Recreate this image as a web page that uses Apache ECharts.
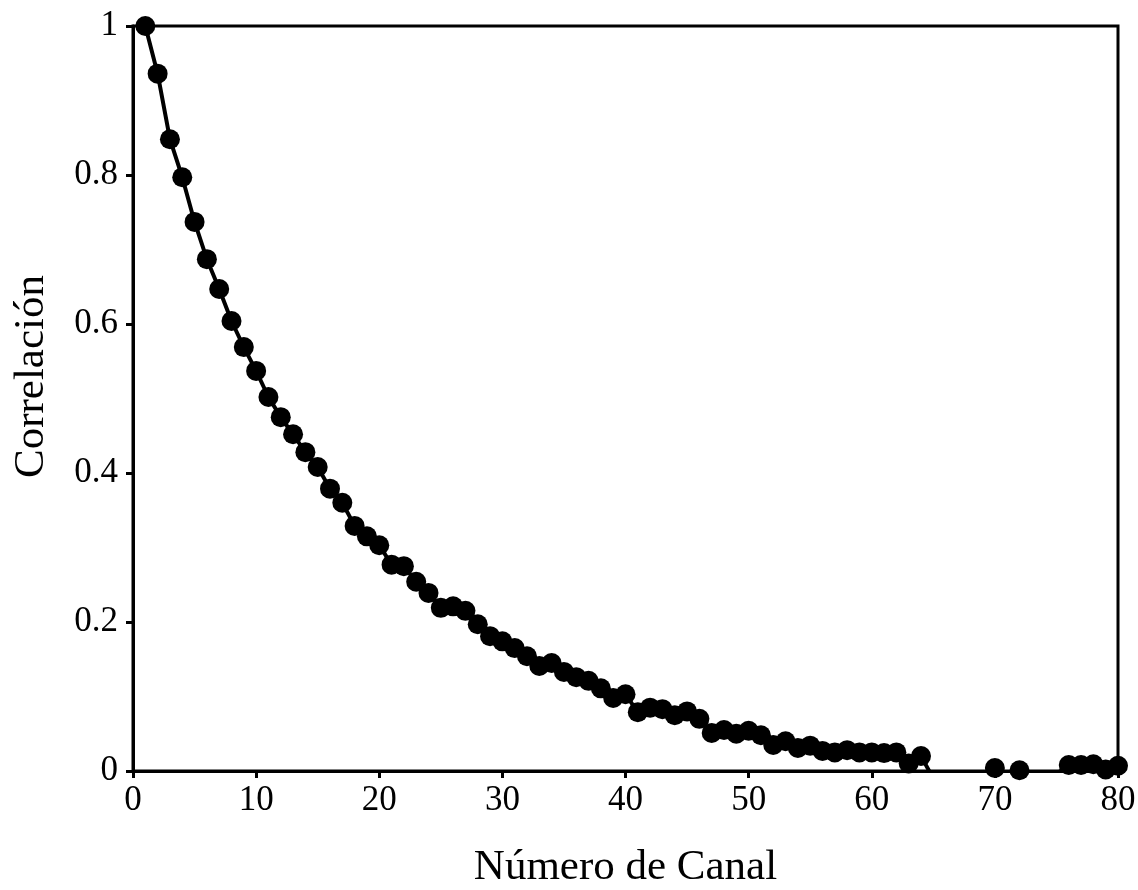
<!DOCTYPE html>
<html>
<head>
<meta charset="utf-8">
<script src="https://cdn.jsdelivr.net/npm/echarts@6/dist/echarts.min.js"></script>
<style>
  html, body { margin: 0; padding: 0; background: #fff; }
  #chart { width: 1138px; height: 890px; }
</style>
</head>
<body>
<div id="chart"></div>
<script>
// Channel numbers and their correlation values.
// Channels with a value below zero fall outside the axis range and are clipped.
const canales = [
  1, 2, 3, 4, 5, 6, 7, 8, 9, 10,
  11, 12, 13, 14, 15, 16, 17, 18, 19, 20,
  21, 22, 23, 24, 25, 26, 27, 28, 29, 30,
  31, 32, 33, 34, 35, 36, 37, 38, 39, 40,
  41, 42, 43, 44, 45, 46, 47, 48, 49, 50,
  51, 52, 53, 54, 55, 56, 57, 58, 59, 60,
  61, 62, 63, 64, 65, 66, 67, 68, 69, 70,
  71, 72, 73, 74, 75, 76, 77, 78, 79, 80
];
const correlacion = [
  1.000, 0.936, 0.848, 0.797, 0.737, 0.687, 0.647, 0.604, 0.569, 0.537,
  0.502, 0.475, 0.452, 0.428, 0.408, 0.379, 0.360, 0.329, 0.315, 0.303,
  0.277, 0.275, 0.254, 0.239, 0.219, 0.221, 0.215, 0.197, 0.181, 0.174,
  0.165, 0.154, 0.141, 0.145, 0.133, 0.126, 0.121, 0.111, 0.098, 0.103,
  0.079, 0.085, 0.083, 0.075, 0.080, 0.070, 0.051, 0.055, 0.050, 0.054,
  0.048, 0.035, 0.040, 0.031, 0.034, 0.027, 0.025, 0.028, 0.025, 0.025,
  0.024, 0.025, 0.010, 0.020, -0.010, -0.012, -0.008, -0.011, -0.006, 0.004,
  -0.006, 0.001, -0.008, -0.010, -0.004, 0.008, 0.008, 0.009, 0.002, 0.007
];
const xTicks = [0, 10, 20, 30, 40, 50, 60, 70, 80];
const yTicks = [0, 0.2, 0.4, 0.6, 0.8, 1];

const FONT = '"Liberation Serif", "DejaVu Serif", serif';
const chart = echarts.init(document.getElementById('chart'), null, { renderer: 'canvas' });

chart.setOption({
  animation: false,
  backgroundColor: '#ffffff',
  grid: {
    left: 133, right: 20, top: 26, bottom: 119,
    outerBoundsMode: 'none', containLabel: false,
    show: true, borderColor: '#000', borderWidth: 3, backgroundColor: 'transparent'
  },
  xAxis: {
    type: 'value',
    min: xTicks[0], max: xTicks[xTicks.length - 1], interval: xTicks[1] - xTicks[0],
    name: 'Número de Canal',
    nameLocation: 'middle', nameGap: 75,
    nameTextStyle: { fontFamily: FONT, fontSize: 43, color: '#000' },
    axisLine: { show: true, lineStyle: { color: '#000', width: 3 } },
    axisTick: { show: true, inside: false, length: 7, lineStyle: { color: '#000', width: 3 } },
    axisLabel: { fontFamily: FONT, fontSize: 35, color: '#000', margin: 12 },
    splitLine: { show: false }
  },
  yAxis: {
    type: 'value',
    min: yTicks[0], max: yTicks[yTicks.length - 1], interval: yTicks[1] - yTicks[0],
    name: 'Correlación',
    nameLocation: 'middle', nameGap: 80, nameRotate: 90,
    nameTextStyle: { fontFamily: FONT, fontSize: 43, color: '#000', padding: [0, 0, 0, 44] },
    axisLine: { show: true, lineStyle: { color: '#000', width: 3 } },
    axisTick: { show: true, inside: false, length: 7, lineStyle: { color: '#000', width: 3 } },
    axisLabel: {
      fontFamily: FONT, fontSize: 35, color: '#000', margin: 15,
      formatter: v => String(+v.toFixed(1))
    },
    splitLine: { show: false }
  },
  series: [{
    type: 'line',
    data: canales.map((c, i) => [c, correlacion[i]]),
    clip: true,
    symbol: 'circle',
    symbolSize: 20,
    showAllSymbol: true,
    itemStyle: { color: '#000' },
    lineStyle: { color: '#000', width: 4 }
  }]
});
</script>
</body>
</html>
